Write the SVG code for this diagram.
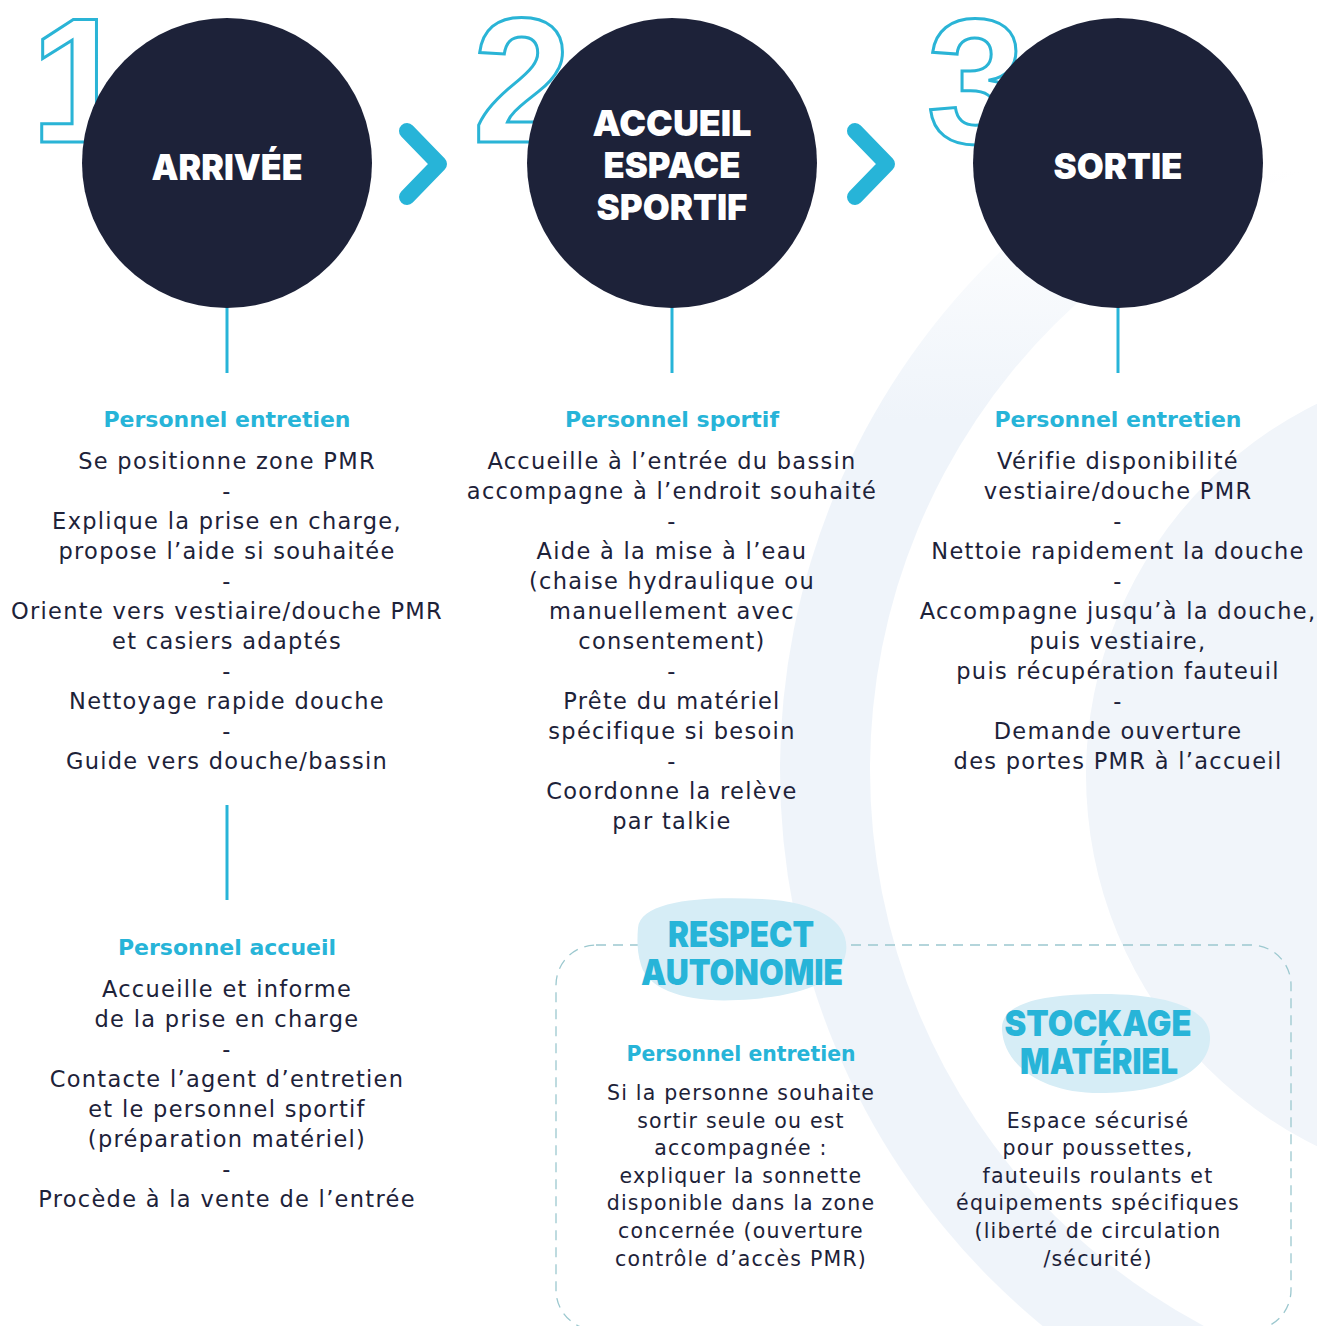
<svg xmlns="http://www.w3.org/2000/svg" width="1317" height="1326" viewBox="0 0 1317 1326">
<defs>
<linearGradient id="fade" gradientUnits="userSpaceOnUse" x1="0" y1="420" x2="0" y2="170">
<stop offset="0" stop-color="#eff4fa" stop-opacity="1"/>
<stop offset="1" stop-color="#eff4fa" stop-opacity="0"/>
</linearGradient>
<style>
.bg{fill:#f1f5fa}
.num{fill:none;stroke:#2ab4d6;stroke-width:3;font-family:"Liberation Sans",Arial,sans-serif;font-weight:bold;font-size:178px;text-anchor:middle}
.disc{fill:#1d2239}
.ttl{fill:#ffffff;font-family:"Inter","Open Sans","Liberation Sans",sans-serif;font-weight:900;font-size:36px;text-anchor:middle}
.chev{fill:none;stroke:#27b4d8;stroke-width:16;stroke-linecap:round;stroke-linejoin:round}
.conn{stroke:#27b4d8;stroke-width:3;fill:none}
.hd{fill:#27b4d8;font-family:"DejaVu Sans","Liberation Sans",sans-serif;font-weight:bold;font-size:22px;text-anchor:middle}
.tx{fill:#1d2239;font-family:"DejaVu Sans","Liberation Sans",sans-serif;font-size:22.5px;letter-spacing:1.3px;text-anchor:middle}
.tx2{fill:#1d2239;font-family:"DejaVu Sans","Liberation Sans",sans-serif;font-size:20.5px;letter-spacing:1.2px;text-anchor:middle}
.hd2{fill:#27b4d8;font-family:"DejaVu Sans","Liberation Sans",sans-serif;font-weight:bold;font-size:20.4px;text-anchor:middle}
.blob{fill:#d6edf6}
.big{fill:#27b4d8;font-family:"Inter","Open Sans","Liberation Sans",sans-serif;font-weight:900;font-size:35px;text-anchor:middle}
.box{fill:none;stroke:#9cc8cf;stroke-width:1.3;stroke-dasharray:10 7}
</style>
</defs>
<rect width="1317" height="1326" fill="#ffffff"/>
<g id="background">
<path fill="url(#fade)" fill-rule="evenodd" d="M 780,770 a 720,720 0 1,0 1440,0 a 720,720 0 1,0 -1440,0 Z M 870,770 a 630,630 0 1,0 1260,0 a 630,630 0 1,0 -1260,0 Z"/>
<circle class="bg" cx="1500" cy="775" r="414"/>
</g>
<g id="numbers">
<text class="num" x="80" y="142">1</text>
<text class="num" x="522" y="142">2</text>
<text class="num" x="976" y="143">3</text>
</g>
<g id="connectors">
<line class="conn" x1="227" y1="300" x2="227" y2="373"/>
<line class="conn" x1="672" y1="300" x2="672" y2="373"/>
<line class="conn" x1="1118" y1="300" x2="1118" y2="373"/>
<line class="conn" x1="227" y1="805" x2="227" y2="900"/>
<polyline class="chev" points="407,131 439,164 407,197"/>
<polyline class="chev" points="855,131 887,164 855,197"/>
</g>
<g id="node-arrivee">
<circle class="disc" cx="227" cy="163" r="145"/>
<text class="ttl" x="227" y="180" textLength="151" lengthAdjust="spacingAndGlyphs">ARRIVÉE</text>
</g>
<g id="node-accueil">
<circle class="disc" cx="672" cy="163" r="145"/>
<text class="ttl" x="672" y="136" textLength="159" lengthAdjust="spacingAndGlyphs">ACCUEIL</text>
<text class="ttl" x="672" y="178" textLength="137" lengthAdjust="spacingAndGlyphs">ESPACE</text>
<text class="ttl" x="672" y="220" textLength="151" lengthAdjust="spacingAndGlyphs">SPORTIF</text>
</g>
<g id="node-sortie">
<circle class="disc" cx="1118" cy="163" r="145"/>
<text class="ttl" x="1118" y="179" textLength="129" lengthAdjust="spacingAndGlyphs">SORTIE</text>
</g>
<g id="col1-entretien">
<text class="hd" x="227" y="427">Personnel entretien</text>
<text class="tx" x="227" y="469">Se positionne zone PMR</text>
<text class="tx" x="227" y="499">-</text>
<text class="tx" x="227" y="529">Explique la prise en charge,</text>
<text class="tx" x="227" y="559">propose l’aide si souhaitée</text>
<text class="tx" x="227" y="589">-</text>
<text class="tx" x="227" y="619">Oriente vers vestiaire/douche PMR</text>
<text class="tx" x="227" y="649">et casiers adaptés</text>
<text class="tx" x="227" y="679">-</text>
<text class="tx" x="227" y="709">Nettoyage rapide douche</text>
<text class="tx" x="227" y="739">-</text>
<text class="tx" x="227" y="769">Guide vers douche/bassin</text>
</g>
<g id="col2-sportif">
<text class="hd" x="672" y="427">Personnel sportif</text>
<text class="tx" x="672" y="469">Accueille à l’entrée du bassin</text>
<text class="tx" x="672" y="499">accompagne à l’endroit souhaité</text>
<text class="tx" x="672" y="529">-</text>
<text class="tx" x="672" y="559">Aide à la mise à l’eau</text>
<text class="tx" x="672" y="589">(chaise hydraulique ou</text>
<text class="tx" x="672" y="619">manuellement avec</text>
<text class="tx" x="672" y="649">consentement)</text>
<text class="tx" x="672" y="679">-</text>
<text class="tx" x="672" y="709">Prête du matériel</text>
<text class="tx" x="672" y="739">spécifique si besoin</text>
<text class="tx" x="672" y="769">-</text>
<text class="tx" x="672" y="799">Coordonne la relève</text>
<text class="tx" x="672" y="829">par talkie</text>
</g>
<g id="col3-entretien">
<text class="hd" x="1118" y="427">Personnel entretien</text>
<text class="tx" x="1118" y="469">Vérifie disponibilité</text>
<text class="tx" x="1118" y="499">vestiaire/douche PMR</text>
<text class="tx" x="1118" y="529">-</text>
<text class="tx" x="1118" y="559">Nettoie rapidement la douche</text>
<text class="tx" x="1118" y="589">-</text>
<text class="tx" x="1118" y="619">Accompagne jusqu’à la douche,</text>
<text class="tx" x="1118" y="649">puis vestiaire,</text>
<text class="tx" x="1118" y="679">puis récupération fauteuil</text>
<text class="tx" x="1118" y="709">-</text>
<text class="tx" x="1118" y="739">Demande ouverture</text>
<text class="tx" x="1118" y="769">des portes PMR à l’accueil</text>
</g>
<g id="col1-accueil">
<text class="hd" x="227" y="955">Personnel accueil</text>
<text class="tx" x="227" y="997">Accueille et informe</text>
<text class="tx" x="227" y="1027">de la prise en charge</text>
<text class="tx" x="227" y="1057">-</text>
<text class="tx" x="227" y="1087">Contacte l’agent d’entretien</text>
<text class="tx" x="227" y="1117">et le personnel sportif</text>
<text class="tx" x="227" y="1147">(préparation matériel)</text>
<text class="tx" x="227" y="1177">-</text>
<text class="tx" x="227" y="1207">Procède à la vente de l’entrée</text>
</g>
<g id="dashed-box">
<rect class="box" x="556" y="945" width="735" height="385" rx="40"/>
</g>
<g id="respect-autonomie">
<path class="blob" d="M 638,928 C 640,900 705,896 762,899 C 822,902 850,924 846,952 C 842,982 800,997 738,1000 C 688,1003 648,990 641,965 C 637,952 637,940 638,928 Z"/>
<text class="big" x="741" y="947" textLength="146" lengthAdjust="spacingAndGlyphs">RESPECT</text>
<text class="big" x="742" y="985" textLength="202" lengthAdjust="spacingAndGlyphs">AUTONOMIE</text>
<text class="hd2" x="741" y="1061">Personnel entretien</text>
<text class="tx2" x="741" y="1100">Si la personne souhaite</text>
<text class="tx2" x="741" y="1128">sortir seule ou est</text>
<text class="tx2" x="741" y="1155">accompagnée :</text>
<text class="tx2" x="741" y="1183">expliquer la sonnette</text>
<text class="tx2" x="741" y="1210">disponible dans la zone</text>
<text class="tx2" x="741" y="1238">concernée (ouverture</text>
<text class="tx2" x="741" y="1266">contrôle d’accès PMR)</text>
</g>
<g id="stockage-materiel">
<path class="blob" d="M 1002,1030 C 1000,1004 1040,994 1102,994 C 1172,994 1212,1010 1210,1040 C 1208,1074 1162,1093 1100,1093 C 1040,1093 1004,1064 1002,1030 Z"/>
<text class="big" x="1098" y="1036" textLength="187" lengthAdjust="spacingAndGlyphs">STOCKAGE</text>
<text class="big" x="1099" y="1074" textLength="158" lengthAdjust="spacingAndGlyphs">MATÉRIEL</text>
<text class="tx2" x="1098" y="1128">Espace sécurisé</text>
<text class="tx2" x="1098" y="1155">pour poussettes,</text>
<text class="tx2" x="1098" y="1183">fauteuils roulants et</text>
<text class="tx2" x="1098" y="1210">équipements spécifiques</text>
<text class="tx2" x="1098" y="1238">(liberté de circulation</text>
<text class="tx2" x="1098" y="1266">/sécurité)</text>
</g>
</svg>
